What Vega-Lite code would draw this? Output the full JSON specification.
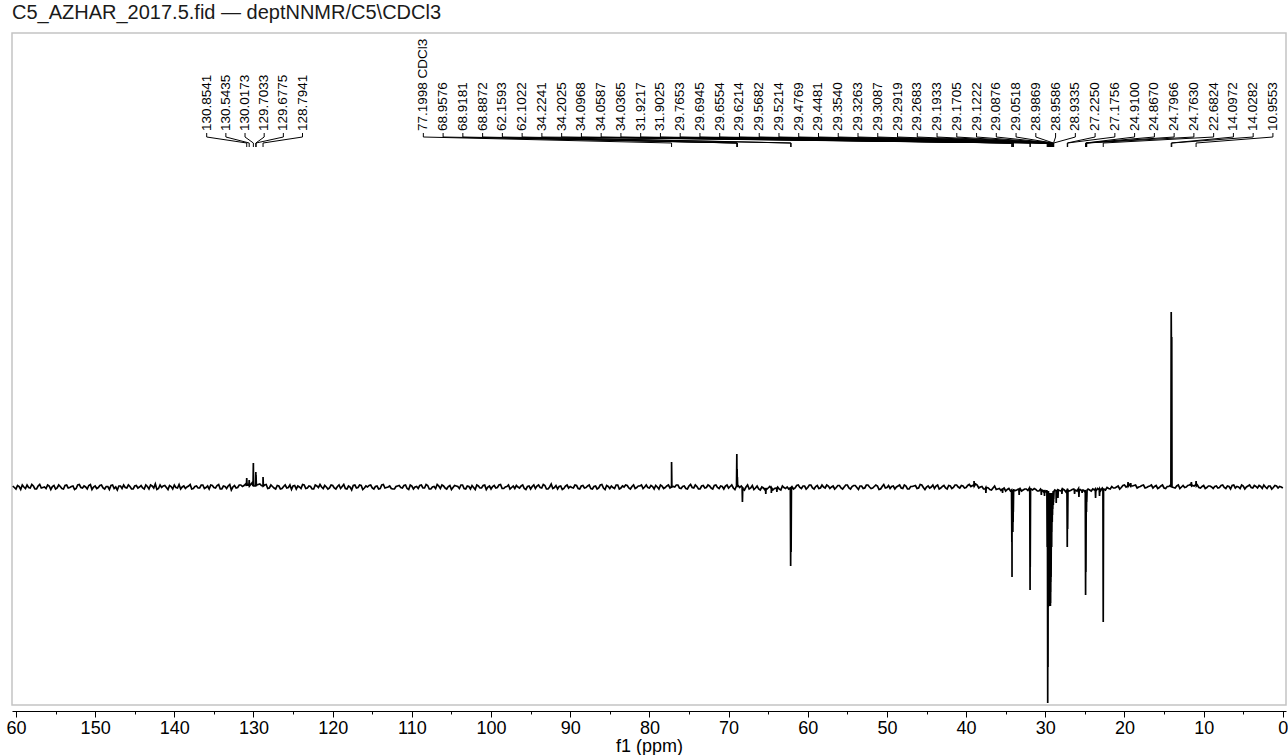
{
"$schema": "https://vega.github.io/schema/vega-lite/v6.json",
"width": 1274, "height": 672,
"autosize": {"type": "none"},
"padding": {"left": 12, "top": 33, "right": 2, "bottom": 50},
"background": "white",
"config": {"font": "Liberation Sans", "view": {"stroke": "#c4c4c4", "strokeWidth": 1.5}},
"title": {"text": "C5_AZHAR_2017.5.fid — deptNNMR/C5\\CDCl3", "anchor": "start", "frame": "group", "fontSize": 20, "fontWeight": "normal", "color": "#1a1a1a", "offset": 10},
"datasets": {
"spec": [
{"p":160.4,"i":1},{"p":160.0,"i":-2},{"p":159.6,"i":0.5},{"p":159.2,"i":2},{"p":158.8,"i":-1.5},{"p":158.4,"i":-0.5},{"p":158.0,"i":2.5},{"p":157.6,"i":-2},{"p":157.2,"i":1},{"p":156.8,"i":-1},{"p":156.4,"i":0},{"p":156.0,"i":2},{"p":155.6,"i":-2.5},{"p":155.2,"i":1.5},{"p":154.8,"i":-1},{"p":154.4,"i":0.5},{"p":154.0,"i":-2},{"p":153.6,"i":2},{"p":153.2,"i":-0.5},{"p":152.8,"i":1},
{"p":152.4,"i":-1.5},{"p":152.0,"i":2.5},{"p":151.6,"i":-1},{"p":151.2,"i":0},{"p":150.8,"i":1.5},{"p":150.4,"i":-2.5},{"p":150.0,"i":1},{"p":149.6,"i":-0.5},{"p":149.2,"i":2},{"p":148.8,"i":-2},{"p":148.4,"i":0.5},{"p":148.0,"i":1.5},{"p":147.6,"i":-1.5},{"p":147.2,"i":-3},{"p":146.8,"i":1},{"p":146.4,"i":2},{"p":146.0,"i":-1},{"p":145.6,"i":0.5},{"p":145.2,"i":-2},{"p":144.8,"i":1.5},
{"p":144.4,"i":0},{"p":144.0,"i":-1},{"p":143.6,"i":2},{"p":143.2,"i":-2},{"p":142.8,"i":1},{"p":142.4,"i":3},{"p":142.0,"i":-1.5},{"p":141.6,"i":-0.5},{"p":141.2,"i":1.5},{"p":140.8,"i":-2.5},{"p":140.4,"i":0.5},{"p":140.0,"i":2},{"p":139.6,"i":-1},{"p":139.2,"i":-2},{"p":138.8,"i":1},{"p":138.4,"i":0},{"p":138.0,"i":2.5},{"p":137.6,"i":-1.5},{"p":137.2,"i":1},{"p":136.8,"i":-1},
{"p":136.4,"i":2},{"p":136.0,"i":-0.5},{"p":135.6,"i":-2},{"p":135.2,"i":1.5},{"p":134.8,"i":-1},{"p":134.4,"i":2.5},{"p":134.0,"i":-2},{"p":133.6,"i":0.5},{"p":133.2,"i":1},{"p":132.8,"i":-3},{"p":132.4,"i":1.5},{"p":132.0,"i":-0.5},{"p":131.6,"i":2},{"p":131.2,"i":1.5},{"p":130.8,"i":3},{"p":130.4,"i":2},{"p":130.0,"i":3.5},{"p":129.6,"i":2},{"p":129.2,"i":3},{"p":128.8,"i":1},
{"p":128.4,"i":2.5},{"p":128.0,"i":-1},{"p":127.6,"i":0.5},{"p":127.2,"i":-2},{"p":126.8,"i":1},{"p":126.4,"i":-1.5},{"p":126.0,"i":2},{"p":125.6,"i":-0.5},{"p":125.2,"i":-2.5},{"p":124.8,"i":1.5},{"p":124.4,"i":1},{"p":124.0,"i":-1.5},{"p":123.6,"i":2},{"p":123.2,"i":-1},{"p":122.8,"i":0.5},{"p":122.4,"i":-2},{"p":122.0,"i":1},{"p":121.6,"i":2.5},{"p":121.2,"i":-1.5},{"p":120.8,"i":0},
{"p":120.4,"i":-1},{"p":120.0,"i":1.5},{"p":119.6,"i":-2},{"p":119.2,"i":2},{"p":118.8,"i":0.5},{"p":118.4,"i":-1.5},{"p":118.0,"i":1},{"p":117.6,"i":-3},{"p":117.2,"i":2},{"p":116.8,"i":-0.5},{"p":116.4,"i":1.5},{"p":116.0,"i":-1},{"p":115.6,"i":0},{"p":115.2,"i":2},{"p":114.8,"i":-2},{"p":114.4,"i":1},{"p":114.0,"i":-1.5},{"p":113.6,"i":2.5},{"p":113.2,"i":-0.5},{"p":112.8,"i":1},
{"p":112.4,"i":-2},{"p":112.0,"i":0.5},{"p":111.6,"i":1.5},{"p":111.2,"i":-1},{"p":110.8,"i":2},{"p":110.4,"i":-2.5},{"p":110.0,"i":1},{"p":109.6,"i":0},{"p":109.2,"i":-1.5},{"p":108.8,"i":2},{"p":108.4,"i":-1},{"p":108.0,"i":1.5},{"p":107.6,"i":-2},{"p":107.2,"i":0.5},{"p":106.8,"i":2.5},{"p":106.4,"i":-1.5},{"p":106.0,"i":1},{"p":105.6,"i":-2},{"p":105.2,"i":1.5},{"p":104.8,"i":-0.5},
{"p":104.4,"i":1},{"p":104.0,"i":-1.5},{"p":103.6,"i":2},{"p":103.2,"i":-2},{"p":102.8,"i":0.5},{"p":102.4,"i":1.5},{"p":102.0,"i":-2.5},{"p":101.6,"i":1},{"p":101.2,"i":-1},{"p":100.8,"i":2},{"p":100.4,"i":0},{"p":100.0,"i":-2},{"p":99.6,"i":1.5},{"p":99.2,"i":-0.5},{"p":98.8,"i":2.5},{"p":98.4,"i":-1.5},{"p":98.0,"i":0.5},{"p":97.6,"i":-2},{"p":97.2,"i":1},{"p":96.8,"i":1.5},
{"p":96.4,"i":-1},{"p":96.0,"i":2},{"p":95.6,"i":-2.5},{"p":95.2,"i":1},{"p":94.8,"i":0.5},{"p":94.4,"i":-1.5},{"p":94.0,"i":2},{"p":93.6,"i":-1},{"p":93.2,"i":1.5},{"p":92.8,"i":-2},{"p":92.4,"i":3},{"p":92.0,"i":-0.5},{"p":91.6,"i":-2},{"p":91.2,"i":1},{"p":90.8,"i":-1.5},{"p":90.4,"i":2},{"p":90.0,"i":0.5},{"p":89.6,"i":-1},{"p":89.2,"i":1.5},{"p":88.8,"i":-2},
{"p":88.4,"i":1.5},{"p":88.0,"i":-0.5},{"p":87.6,"i":2},{"p":87.2,"i":-2},{"p":86.8,"i":1},{"p":86.4,"i":-1},{"p":86.0,"i":2.5},{"p":85.6,"i":-2.5},{"p":85.2,"i":0.5},{"p":84.8,"i":1},{"p":84.4,"i":-1.5},{"p":84.0,"i":2},{"p":83.6,"i":-1},{"p":83.2,"i":0},{"p":82.8,"i":1.5},{"p":82.4,"i":-2},{"p":82.0,"i":2},{"p":81.6,"i":-0.5},{"p":81.2,"i":1},{"p":80.8,"i":-1.5},
{"p":80.4,"i":2},{"p":80.0,"i":-1},{"p":79.6,"i":0.5},{"p":79.2,"i":1.5},{"p":78.8,"i":-2},{"p":78.4,"i":1},{"p":78.0,"i":-0.5},{"p":77.6,"i":2},{"p":77.2,"i":1.5},{"p":76.8,"i":0},{"p":76.4,"i":2},{"p":76.0,"i":-1.5},{"p":75.6,"i":1},{"p":75.2,"i":-2},{"p":74.8,"i":2.5},{"p":74.4,"i":-1},{"p":74.0,"i":0.5},{"p":73.6,"i":-2},{"p":73.2,"i":1.5},{"p":72.8,"i":-0.5},
{"p":72.4,"i":1},{"p":72.0,"i":-2},{"p":71.6,"i":2},{"p":71.2,"i":-1.5},{"p":70.8,"i":0.5},{"p":70.4,"i":1},{"p":70.0,"i":-1},{"p":69.6,"i":2},{"p":69.2,"i":-2.5},{"p":68.8,"i":1.5},{"p":68.4,"i":1},{"p":68.0,"i":-3},{"p":67.6,"i":2},{"p":67.2,"i":-1},{"p":66.8,"i":-2.5},{"p":66.4,"i":1},{"p":66.0,"i":-3},{"p":65.6,"i":-1},{"p":65.2,"i":-2.5},{"p":64.8,"i":0.5},
{"p":64.4,"i":-3},{"p":64.0,"i":-1},{"p":63.6,"i":-2},{"p":63.2,"i":1},{"p":62.8,"i":-1.5},{"p":62.4,"i":-2},{"p":62.0,"i":0.5},{"p":61.6,"i":-1},{"p":61.2,"i":2},{"p":60.8,"i":-1.5},{"p":60.4,"i":1},{"p":60.0,"i":-0.5},{"p":59.6,"i":2},{"p":59.2,"i":-2},{"p":58.8,"i":1.5},{"p":58.4,"i":-1},{"p":58.0,"i":0},{"p":57.6,"i":2},{"p":57.2,"i":-1.5},{"p":56.8,"i":1},
{"p":56.4,"i":-0.5},{"p":56.0,"i":1.5},{"p":55.6,"i":-2},{"p":55.2,"i":2},{"p":54.8,"i":-1},{"p":54.4,"i":0.5},{"p":54.0,"i":1.5},{"p":53.6,"i":-2.5},{"p":53.2,"i":1},{"p":52.8,"i":-1},{"p":52.4,"i":2},{"p":52.0,"i":-1.5},{"p":51.6,"i":0.5},{"p":51.2,"i":1},{"p":50.8,"i":-2},{"p":50.4,"i":2.5},{"p":50.0,"i":-0.5},{"p":49.6,"i":-1.5},{"p":49.2,"i":1},{"p":48.8,"i":0},
{"p":48.4,"i":2},{"p":48.0,"i":-1.5},{"p":47.6,"i":1},{"p":47.2,"i":-2},{"p":46.8,"i":0.5},{"p":46.4,"i":1.5},{"p":46.0,"i":-1},{"p":45.6,"i":2},{"p":45.2,"i":-2.5},{"p":44.8,"i":1},{"p":44.4,"i":0},{"p":44.0,"i":-1.5},{"p":43.6,"i":2},{"p":43.2,"i":-1},{"p":42.8,"i":1.5},{"p":42.4,"i":-2},{"p":42.0,"i":1},{"p":41.6,"i":-0.5},{"p":41.2,"i":2},{"p":40.8,"i":-1},
{"p":40.4,"i":1},{"p":40.0,"i":-0.5},{"p":39.6,"i":2.5},{"p":39.2,"i":1.5},{"p":38.8,"i":3},{"p":38.4,"i":-1},{"p":38.0,"i":0.5},{"p":37.6,"i":-2},{"p":37.2,"i":-1},{"p":36.8,"i":-3},{"p":36.4,"i":1},{"p":36.0,"i":-2},{"p":35.6,"i":-3.5},{"p":35.2,"i":-1},{"p":34.8,"i":-2.5},{"p":34.4,"i":-4},{"p":34.0,"i":-2},{"p":33.6,"i":-3},{"p":33.2,"i":-1.5},{"p":32.8,"i":-3},
{"p":32.4,"i":-2},{"p":32.0,"i":-1},{"p":31.6,"i":-3},{"p":31.2,"i":-2.5},{"p":30.8,"i":-4},{"p":30.4,"i":-3},{"p":30.0,"i":-5},{"p":29.6,"i":-4},{"p":29.2,"i":-6},{"p":28.8,"i":-3},{"p":28.4,"i":-2},{"p":28.0,"i":-4},{"p":27.6,"i":-3},{"p":27.2,"i":-1.5},{"p":26.8,"i":-3.5},{"p":26.4,"i":-2},{"p":26.0,"i":-4},{"p":25.6,"i":-2.5},{"p":25.2,"i":-3},{"p":24.8,"i":-4.5},
{"p":24.4,"i":-3},{"p":24.0,"i":-2},{"p":23.6,"i":-4},{"p":23.2,"i":-2.5},{"p":22.8,"i":-1},{"p":22.4,"i":-3},{"p":22.0,"i":-1.5},{"p":21.6,"i":0.5},{"p":21.2,"i":-1},{"p":20.8,"i":1},{"p":20.4,"i":-0.5},{"p":20.0,"i":2},{"p":19.6,"i":1},{"p":19.2,"i":3},{"p":18.8,"i":1.5},{"p":18.4,"i":-1},{"p":18.0,"i":0.5},{"p":17.6,"i":2},{"p":17.2,"i":-0.5},{"p":16.8,"i":1},
{"p":16.4,"i":-1},{"p":16.0,"i":1.5},{"p":15.6,"i":-0.5},{"p":15.2,"i":2},{"p":14.8,"i":-1.5},{"p":14.4,"i":0.5},{"p":14.0,"i":1},{"p":13.6,"i":-1},{"p":13.2,"i":2},{"p":12.8,"i":0},{"p":12.4,"i":-0.5},{"p":12.0,"i":1.5},{"p":11.6,"i":3},{"p":11.2,"i":1},{"p":10.8,"i":2},{"p":10.4,"i":-1},{"p":10.0,"i":1.5},{"p":9.6,"i":-0.5},{"p":9.2,"i":1},{"p":8.8,"i":-1.5},
{"p":8.4,"i":1},{"p":8.0,"i":-0.5},{"p":7.6,"i":2},{"p":7.2,"i":-1.5},{"p":6.8,"i":0.5},{"p":6.4,"i":1.5},{"p":6.0,"i":-1},{"p":5.6,"i":0},{"p":5.2,"i":2},{"p":4.8,"i":-2},{"p":4.4,"i":1},{"p":4.0,"i":-0.5},{"p":3.6,"i":1.5},{"p":3.2,"i":-1},{"p":2.8,"i":0.5},{"p":2.4,"i":2},{"p":2.0,"i":-1.5},{"p":1.6,"i":1},{"p":1.2,"i":-0.5},{"p":0.8,"i":1},
{"p":0.4,"i":0.5},{"p":0.0,"i":-1},
{"p":160.2,"i":-0.5},{"p":159.8,"i":1.5},{"p":159.4,"i":-2.5},{"p":159.0,"i":0},{"p":158.6,"i":2},{"p":158.2,"i":-1},{"p":157.8,"i":1},{"p":157.4,"i":-2},{"p":157.0,"i":2.5},{"p":156.6,"i":-0.5},{"p":156.2,"i":-1.5},{"p":155.8,"i":1},{"p":155.4,"i":0.5},{"p":155.0,"i":-2},{"p":154.6,"i":2},{"p":154.2,"i":-1.5},{"p":153.8,"i":1.5},{"p":153.4,"i":-1},{"p":153.0,"i":0.5},{"p":152.6,"i":-2.5},
{"p":152.2,"i":2},{"p":151.8,"i":-0.5},{"p":151.4,"i":1},{"p":151.0,"i":-2},{"p":150.6,"i":2.5},{"p":150.2,"i":0},{"p":149.8,"i":-1.5},{"p":149.4,"i":1.5},{"p":149.0,"i":-1},{"p":148.6,"i":0.5},{"p":148.2,"i":-2.5},{"p":147.8,"i":2},{"p":147.4,"i":0},{"p":147.0,"i":1},{"p":146.6,"i":-1.5},{"p":146.2,"i":-0.5},{"p":145.8,"i":2},{"p":145.4,"i":-2},{"p":145.0,"i":1},{"p":144.6,"i":-1},
{"p":144.2,"i":1.5},{"p":143.8,"i":-2},{"p":143.4,"i":0.5},{"p":143.0,"i":2},{"p":142.6,"i":-1},{"p":142.2,"i":-2.5},{"p":141.8,"i":2},{"p":141.4,"i":1},{"p":141.0,"i":-0.5},{"p":140.6,"i":1.5},{"p":140.2,"i":-2},{"p":139.8,"i":-0.5},{"p":139.4,"i":2.5},{"p":139.0,"i":0},{"p":138.6,"i":-1.5},{"p":138.2,"i":1},{"p":137.8,"i":-2},{"p":137.4,"i":0.5},{"p":137.0,"i":-1},{"p":136.6,"i":2},
{"p":136.2,"i":-1.5},{"p":135.8,"i":1},{"p":135.4,"i":2},{"p":135.0,"i":-0.5},{"p":134.6,"i":1.5},{"p":134.2,"i":-2},{"p":133.8,"i":1},{"p":133.4,"i":-1.5},{"p":133.0,"i":2.5},{"p":132.6,"i":0},{"p":132.2,"i":-1},{"p":131.8,"i":2},{"p":131.4,"i":0.5},{"p":131.0,"i":3},{"p":130.6,"i":1.5},{"p":130.2,"i":4},{"p":129.8,"i":1},{"p":129.4,"i":2.5},{"p":129.0,"i":1.5},{"p":128.6,"i":2},
{"p":128.2,"i":-1.5},{"p":127.8,"i":2},{"p":127.4,"i":-1},{"p":127.0,"i":1.5},{"p":126.6,"i":-2},{"p":126.2,"i":0.5},{"p":125.8,"i":-1},{"p":125.4,"i":2},{"p":125.0,"i":1},{"p":124.6,"i":-2},{"p":124.2,"i":0},{"p":123.8,"i":2.5},{"p":123.4,"i":-1.5},{"p":123.0,"i":1},{"p":122.6,"i":-2},{"p":122.2,"i":2},{"p":121.8,"i":-0.5},{"p":121.4,"i":0},{"p":121.0,"i":1.5},{"p":120.6,"i":-2},
{"p":120.2,"i":2},{"p":119.8,"i":-1},{"p":119.4,"i":0.5},{"p":119.0,"i":-1.5},{"p":118.6,"i":2.5},{"p":118.2,"i":-2},{"p":117.8,"i":0},{"p":117.4,"i":1.5},{"p":117.0,"i":-1},{"p":116.6,"i":2},{"p":116.2,"i":-2.5},{"p":115.8,"i":1},{"p":115.4,"i":1.5},{"p":115.0,"i":-1},{"p":114.6,"i":0.5},{"p":114.2,"i":-2},{"p":113.8,"i":2},{"p":113.4,"i":-1},{"p":113.0,"i":0},{"p":112.6,"i":-1.5},
{"p":112.2,"i":-2},{"p":111.8,"i":1},{"p":111.4,"i":-0.5},{"p":111.0,"i":1.5},{"p":110.6,"i":-1.5},{"p":110.2,"i":2},{"p":109.8,"i":-2},{"p":109.4,"i":0.5},{"p":109.0,"i":1.5},{"p":108.6,"i":-1},{"p":108.2,"i":2.5},{"p":107.8,"i":-2},{"p":107.4,"i":0},{"p":107.0,"i":-1.5},{"p":106.6,"i":1},{"p":106.2,"i":2},{"p":105.8,"i":-1},{"p":105.4,"i":0.5},{"p":105.0,"i":-2.5},{"p":104.6,"i":1.5},
{"p":104.2,"i":0.5},{"p":103.8,"i":2},{"p":103.4,"i":-1.5},{"p":103.0,"i":1},{"p":102.6,"i":-2},{"p":102.2,"i":-0.5},{"p":101.8,"i":2},{"p":101.4,"i":-1},{"p":101.0,"i":1.5},{"p":100.6,"i":-2.5},{"p":100.2,"i":1},{"p":99.8,"i":0.5},{"p":99.4,"i":-1},{"p":99.0,"i":2},{"p":98.6,"i":-1.5},{"p":98.2,"i":0},{"p":97.8,"i":2},{"p":97.4,"i":-0.5},{"p":97.0,"i":-1.5},{"p":96.6,"i":0},
{"p":96.2,"i":1},{"p":95.8,"i":-1.5},{"p":95.4,"i":0.5},{"p":95.0,"i":-2},{"p":94.6,"i":2},{"p":94.2,"i":1},{"p":93.8,"i":-0.5},{"p":93.4,"i":2.5},{"p":93.0,"i":-2},{"p":92.6,"i":0},{"p":92.2,"i":-1.5},{"p":91.8,"i":1.5},{"p":91.4,"i":0.5},{"p":91.0,"i":-2.5},{"p":90.6,"i":1},{"p":90.2,"i":-1},{"p":89.8,"i":-0.5},{"p":89.4,"i":2},{"p":89.0,"i":-1.5},{"p":88.6,"i":1},
{"p":88.2,"i":-1},{"p":87.8,"i":1},{"p":87.4,"i":-1.5},{"p":87.0,"i":0.5},{"p":86.6,"i":-2},{"p":86.2,"i":2},{"p":85.8,"i":-1},{"p":85.4,"i":1.5},{"p":85.0,"i":-1.5},{"p":84.6,"i":-0.5},{"p":84.2,"i":2},{"p":83.8,"i":-2},{"p":83.4,"i":1},{"p":83.0,"i":2},{"p":82.6,"i":-1},{"p":82.2,"i":0.5},{"p":81.8,"i":-1.5},{"p":81.4,"i":1},{"p":81.0,"i":2},{"p":80.6,"i":0},
{"p":80.2,"i":-0.5},{"p":79.8,"i":1.5},{"p":79.4,"i":-2},{"p":79.0,"i":0},{"p":78.6,"i":2},{"p":78.2,"i":-1.5},{"p":77.8,"i":1},{"p":77.4,"i":-1},{"p":77.0,"i":0.5},{"p":76.6,"i":2},{"p":76.2,"i":-1},{"p":75.8,"i":0.5},{"p":75.4,"i":-1.5},{"p":75.0,"i":1},{"p":74.6,"i":-0.5},{"p":74.2,"i":2},{"p":73.8,"i":-2},{"p":73.4,"i":1},{"p":73.0,"i":-1},{"p":72.6,"i":2},
{"p":72.2,"i":-1},{"p":71.8,"i":1.5},{"p":71.4,"i":-0.5},{"p":71.0,"i":1},{"p":70.6,"i":-2},{"p":70.2,"i":2},{"p":69.8,"i":0.5},{"p":69.4,"i":-1},{"p":69.0,"i":1},{"p":68.6,"i":-0.5},{"p":68.2,"i":-1.5},{"p":67.8,"i":0},{"p":67.4,"i":-2},{"p":67.0,"i":1.5},{"p":66.6,"i":-1},{"p":66.2,"i":-2},{"p":65.8,"i":0},{"p":65.4,"i":-3},{"p":65.0,"i":-1},{"p":64.6,"i":-2},
{"p":64.2,"i":-1.5},{"p":63.8,"i":0},{"p":63.4,"i":-3},{"p":63.0,"i":-0.5},{"p":62.6,"i":0},{"p":62.2,"i":-1},{"p":61.8,"i":-2},{"p":61.4,"i":1.5},{"p":61.0,"i":-0.5},{"p":60.6,"i":1},{"p":60.2,"i":-2},{"p":59.8,"i":2},{"p":59.4,"i":-1},{"p":59.0,"i":0.5},{"p":58.6,"i":-1.5},{"p":58.2,"i":2},{"p":57.8,"i":-1},{"p":57.4,"i":1},{"p":57.0,"i":0},{"p":56.6,"i":-2},
{"p":56.2,"i":1.5},{"p":55.8,"i":-1},{"p":55.4,"i":0},{"p":55.0,"i":2},{"p":54.6,"i":-2},{"p":54.2,"i":1.5},{"p":53.8,"i":-0.5},{"p":53.4,"i":1},{"p":53.0,"i":-1.5},{"p":52.6,"i":2},{"p":52.2,"i":0},{"p":51.8,"i":-1},{"p":51.4,"i":2},{"p":51.0,"i":-2.5},{"p":50.6,"i":0.5},{"p":50.2,"i":-1},{"p":49.8,"i":1.5},{"p":49.4,"i":0.5},{"p":49.0,"i":-2},{"p":48.6,"i":1},
{"p":48.2,"i":-1},{"p":47.8,"i":2},{"p":47.4,"i":-2},{"p":47.0,"i":0.5},{"p":46.6,"i":1},{"p":46.2,"i":-1.5},{"p":45.8,"i":2.5},{"p":45.4,"i":-0.5},{"p":45.0,"i":0},{"p":44.6,"i":-1},{"p":44.2,"i":2},{"p":43.8,"i":1},{"p":43.4,"i":-2},{"p":43.0,"i":0.5},{"p":42.6,"i":-1},{"p":42.2,"i":1.5},{"p":41.8,"i":-1.5},{"p":41.4,"i":2},{"p":41.0,"i":0},{"p":40.6,"i":1.5},
{"p":40.2,"i":-1},{"p":39.8,"i":1.5},{"p":39.4,"i":0.5},{"p":39.0,"i":3},{"p":38.6,"i":2},{"p":38.2,"i":0},{"p":37.8,"i":-2},{"p":37.4,"i":-0.5},{"p":37.0,"i":-2.5},{"p":36.6,"i":-1},{"p":36.2,"i":-2.5},{"p":35.8,"i":-1.5},{"p":35.4,"i":-2},{"p":35.0,"i":-4},{"p":34.6,"i":-1.5},{"p":34.2,"i":-3},{"p":33.8,"i":-3.5},{"p":33.4,"i":-2},{"p":33.0,"i":-4},{"p":32.6,"i":-2},
{"p":32.2,"i":-3.5},{"p":31.8,"i":-2},{"p":31.4,"i":-1.5},{"p":31.0,"i":-4},{"p":30.6,"i":-2},{"p":30.2,"i":-5},{"p":29.8,"i":-3},{"p":29.4,"i":-6},{"p":29.0,"i":-4},{"p":28.6,"i":-5},{"p":28.2,"i":-3.5},{"p":27.8,"i":-2},{"p":27.4,"i":-5},{"p":27.0,"i":-4},{"p":26.6,"i":-2.5},{"p":26.2,"i":-3},{"p":25.8,"i":-1.5},{"p":25.4,"i":-4},{"p":25.0,"i":-5},{"p":24.6,"i":-2},
{"p":24.2,"i":-4},{"p":23.8,"i":-3},{"p":23.4,"i":-1.5},{"p":23.0,"i":-3.5},{"p":22.6,"i":-2},{"p":22.2,"i":-0.5},{"p":21.8,"i":-2},{"p":21.4,"i":-1},{"p":21.0,"i":0},{"p":20.6,"i":-2},{"p":20.2,"i":1.5},{"p":19.8,"i":0},{"p":19.4,"i":2.5},{"p":19.0,"i":1},{"p":18.6,"i":2},{"p":18.2,"i":0},{"p":17.8,"i":1.5},{"p":17.4,"i":-1},{"p":17.0,"i":0.5},{"p":16.6,"i":2},
{"p":16.2,"i":0.5},{"p":15.8,"i":-1.5},{"p":15.4,"i":1},{"p":15.0,"i":-1},{"p":14.6,"i":0.5},{"p":14.2,"i":2},{"p":13.8,"i":-0.5},{"p":13.4,"i":1},{"p":13.0,"i":-1.5},{"p":12.6,"i":1.5},{"p":12.2,"i":0},{"p":11.8,"i":2},{"p":11.4,"i":1.5},{"p":11.0,"i":2.5},{"p":10.6,"i":-0.5},{"p":10.2,"i":0.5},{"p":9.8,"i":-1.5},{"p":9.4,"i":1},{"p":9.0,"i":0},{"p":8.6,"i":0.5},
{"p":8.2,"i":-1},{"p":7.8,"i":1.5},{"p":7.4,"i":-0.5},{"p":7.0,"i":1},{"p":6.6,"i":-2},{"p":6.2,"i":2},{"p":5.8,"i":0.5},{"p":5.4,"i":-1.5},{"p":5.0,"i":1},{"p":4.6,"i":0},{"p":4.2,"i":2},{"p":3.8,"i":-1},{"p":3.4,"i":0.5},{"p":3.0,"i":1.5},{"p":2.6,"i":-1.5},{"p":2.2,"i":0},{"p":1.8,"i":1},{"p":1.4,"i":-2},{"p":1.0,"i":1.5},{"p":0.6,"i":-1},
{"p":0.2,"i":0},
{"p":130.8941,"i":1},{"p":130.8541,"i":9},{"p":130.8141,"i":1},
{"p":130.5835,"i":1},{"p":130.5435,"i":7},{"p":130.5035,"i":1},
{"p":130.0573,"i":1},{"p":130.0173,"i":24},{"p":129.9773,"i":1},
{"p":129.7433,"i":1},{"p":129.7033,"i":15},{"p":129.69,"i":2},{"p":129.6775,"i":12},{"p":129.6375,"i":1},
{"p":128.8341,"i":1},{"p":128.7941,"i":10},{"p":128.7541,"i":1},
{"p":77.2398,"i":0},{"p":77.1998,"i":25},{"p":77.1598,"i":0},
{"p":68.9976,"i":0},{"p":68.9576,"i":33},{"p":68.9381,"i":2},{"p":68.9181,"i":18},{"p":68.9026,"i":2},{"p":68.8872,"i":10},{"p":68.8472,"i":0},
{"p":68.29,"i":0},{"p":68.25,"i":-15},{"p":68.21,"i":0},
{"p":65.34,"i":-1},{"p":65.3,"i":-7},{"p":65.26,"i":-1},
{"p":64.64,"i":-1},{"p":64.6,"i":-6},{"p":64.56,"i":-1},
{"p":63.94,"i":-1},{"p":63.9,"i":-5},{"p":63.86,"i":-1},
{"p":62.1993,"i":0},{"p":62.1593,"i":-79},{"p":62.13,"i":-2},{"p":62.1022,"i":-65},{"p":62.0622,"i":0},
{"p":39.04,"i":1},{"p":39.0,"i":6},{"p":38.96,"i":1},
{"p":37.54,"i":-1},{"p":37.5,"i":-6},{"p":37.46,"i":-1},
{"p":35.44,"i":-2},{"p":35.4,"i":-6},{"p":35.36,"i":-2},
{"p":34.2641,"i":-3},{"p":34.2241,"i":-55},{"p":34.2125,"i":-20},{"p":34.2025,"i":-90},{"p":34.15,"i":-5},{"p":34.0968,"i":-45},{"p":34.078,"i":-10},{"p":34.0587,"i":-35},{"p":34.047,"i":-8},{"p":34.0365,"i":-25},{"p":33.9965,"i":-3},
{"p":33.34,"i":-2},{"p":33.3,"i":-8},{"p":33.26,"i":-2},
{"p":31.9617,"i":-3},{"p":31.9217,"i":-103},{"p":31.912,"i":-20},{"p":31.9025,"i":-80},{"p":31.8625,"i":-3},
{"p":30.54,"i":-3},{"p":30.5,"i":-8},{"p":30.46,"i":-3},
{"p":30.14,"i":-3},{"p":30.1,"i":-9},{"p":30.06,"i":-3},
{"p":29.8053,"i":-4},{"p":29.7653,"i":-60},{"p":29.73,"i":-10},{"p":29.6945,"i":-216},{"p":29.675,"i":-20},{"p":29.6554,"i":-180},{"p":29.638,"i":-30},{"p":29.6214,"i":-120},{"p":29.595,"i":-25},{"p":29.5682,"i":-119},{"p":29.545,"i":-30},{"p":29.5214,"i":-118},{"p":29.5,"i":-30},{"p":29.4769,"i":-115},{"p":29.462,"i":-30},{"p":29.4481,"i":-110},{"p":29.41,"i":-30},{"p":29.354,"i":-119},{"p":29.34,"i":-30},{"p":29.3263,"i":-116},{"p":29.317,"i":-30},{"p":29.3087,"i":-105},{"p":29.3,"i":-30},{"p":29.2919,"i":-95},{"p":29.28,"i":-25},{"p":29.2683,"i":-90},{"p":29.23,"i":-20},{"p":29.1933,"i":-60},{"p":29.18,"i":-15},{"p":29.1705,"i":-45},{"p":29.145,"i":-12},{"p":29.1222,"i":-35},{"p":29.105,"i":-10},{"p":29.0876,"i":-28},{"p":29.07,"i":-8},{"p":29.0518,"i":-22},{"p":29.02,"i":-6},{"p":28.9869,"i":-18},{"p":28.97,"i":-6},{"p":28.9586,"i":-15},{"p":28.945,"i":-5},{"p":28.9335,"i":-12},{"p":28.8935,"i":-4},
{"p":28.64,"i":-4},{"p":28.62,"i":-16},{"p":28.58,"i":-4},
{"p":28.44,"i":-3},{"p":28.4,"i":-11},{"p":28.36,"i":-3},
{"p":27.94,"i":-3},{"p":27.9,"i":-7},{"p":27.86,"i":-3},
{"p":27.265,"i":-3},{"p":27.225,"i":-60},{"p":27.21,"i":-10},{"p":27.1756,"i":-42},{"p":27.1356,"i":-3},
{"p":26.34,"i":-3},{"p":26.3,"i":-7},{"p":26.26,"i":-3},
{"p":25.79,"i":-3},{"p":25.75,"i":-10},{"p":25.71,"i":-3},
{"p":25.39,"i":-3},{"p":25.35,"i":-6},{"p":25.31,"i":-3},
{"p":24.95,"i":-3},{"p":24.91,"i":-108},{"p":24.89,"i":-15},{"p":24.867,"i":-85},{"p":24.83,"i":-10},{"p":24.7966,"i":-25},{"p":24.78,"i":-8},{"p":24.763,"i":-15},{"p":24.723,"i":-3},
{"p":23.69,"i":-2},{"p":23.65,"i":-11},{"p":23.61,"i":-2},
{"p":23.19,"i":-2},{"p":23.15,"i":-9},{"p":23.11,"i":-2},
{"p":22.7224,"i":-2},{"p":22.6824,"i":-135},{"p":22.6424,"i":-2},
{"p":19.59,"i":1},{"p":19.55,"i":5},{"p":19.51,"i":1},
{"p":19.24,"i":1},{"p":19.21,"i":4},{"p":19.17,"i":1},
{"p":14.1372,"i":0},{"p":14.0972,"i":175},{"p":14.06,"i":120},{"p":14.0282,"i":150},{"p":13.9882,"i":0},
{"p":11.59,"i":1},{"p":11.55,"i":5},{"p":11.51,"i":1},
{"p":10.9953,"i":1},{"p":10.9553,"i":6},{"p":10.9153,"i":1}
],
"labels": [
{"ppm":130.8541,"label":"130.8541","g":1},{"ppm":130.5435,"label":"130.5435","g":1},{"ppm":130.0173,"label":"130.0173","g":1},{"ppm":129.7033,"label":"129.7033","g":1},{"ppm":129.6775,"label":"129.6775","g":1},{"ppm":128.7941,"label":"128.7941","g":1},
{"ppm":77.1998,"label":"77.1998 CDCl3","g":2},{"ppm":68.9576,"label":"68.9576","g":2},{"ppm":68.9181,"label":"68.9181","g":2},{"ppm":68.8872,"label":"68.8872","g":2},{"ppm":62.1593,"label":"62.1593","g":2},{"ppm":62.1022,"label":"62.1022","g":2},
{"ppm":34.2241,"label":"34.2241","g":2},{"ppm":34.2025,"label":"34.2025","g":2},{"ppm":34.0968,"label":"34.0968","g":2},{"ppm":34.0587,"label":"34.0587","g":2},{"ppm":34.0365,"label":"34.0365","g":2},{"ppm":31.9217,"label":"31.9217","g":2},{"ppm":31.9025,"label":"31.9025","g":2},
{"ppm":29.7653,"label":"29.7653","g":2},{"ppm":29.6945,"label":"29.6945","g":2},{"ppm":29.6554,"label":"29.6554","g":2},{"ppm":29.6214,"label":"29.6214","g":2},{"ppm":29.5682,"label":"29.5682","g":2},{"ppm":29.5214,"label":"29.5214","g":2},{"ppm":29.4769,"label":"29.4769","g":2},{"ppm":29.4481,"label":"29.4481","g":2},{"ppm":29.354,"label":"29.3540","g":2},{"ppm":29.3263,"label":"29.3263","g":2},{"ppm":29.3087,"label":"29.3087","g":2},{"ppm":29.2919,"label":"29.2919","g":2},{"ppm":29.2683,"label":"29.2683","g":2},{"ppm":29.1933,"label":"29.1933","g":2},{"ppm":29.1705,"label":"29.1705","g":2},{"ppm":29.1222,"label":"29.1222","g":2},{"ppm":29.0876,"label":"29.0876","g":2},{"ppm":29.0518,"label":"29.0518","g":2},{"ppm":28.9869,"label":"28.9869","g":2},{"ppm":28.9586,"label":"28.9586","g":2},{"ppm":28.9335,"label":"28.9335","g":2},
{"ppm":27.225,"label":"27.2250","g":2},{"ppm":27.1756,"label":"27.1756","g":2},{"ppm":24.91,"label":"24.9100","g":2},{"ppm":24.867,"label":"24.8670","g":2},{"ppm":24.7966,"label":"24.7966","g":2},{"ppm":24.763,"label":"24.7630","g":2},{"ppm":22.6824,"label":"22.6824","g":2},{"ppm":14.0972,"label":"14.0972","g":2},{"ppm":14.0282,"label":"14.0282","g":2},{"ppm":10.9553,"label":"10.9553","g":2}
]
},
"layer": [
{
"data": {"name": "spec"},
"mark": {"type": "line", "color": "black", "strokeWidth": 1.7, "clip": true},
"encoding": {
"x": {"field": "p", "type": "quantitative", "scale": {"domain": [-0.4, 160.5], "reverse": true, "nice": false, "zero": false},
"axis": {"orient": "bottom", "values": [0,10,20,30,40,50,60,70,80,90,100,110,120,130,140,150,160], "labelExpr": "datum.value == 160 ? '60' : datum.label", "tickSize": 6, "tickColor": "black", "tickWidth": 1, "domainColor": "black", "domainWidth": 1, "labelFontSize": 18, "labelColor": "black", "labelPadding": 2, "labelFlush": false, "labelOverlap": false, "title": "f1 (ppm)", "titleFontSize": 18, "titleFontWeight": "normal", "titleColor": "black", "titlePadding": 0, "offset": 6, "grid": false}},
"y": {"field": "i", "type": "quantitative", "scale": {"domain": [-218, 454], "nice": false, "zero": false}, "axis": null}
}
},
{
"data": {"name": "labels"},
"transform": [
{"window": [{"op": "row_number", "as": "k"}], "groupby": ["g"], "sort": [{"field": "ppm", "order": "descending"}]},
{"calculate": "datum.g == 1 ? 135.91 - (datum.k - 1) * 2.42 : 108.55 - (datum.k - 1) * 2.4953", "as": "slot"}
],
"layer": [
{"mark": {"type": "rule", "color": "black", "strokeWidth": 1},
"encoding": {"x": {"field": "slot", "type": "quantitative", "scale": {"domain": [-0.4, 160.5], "reverse": true, "nice": false, "zero": false}, "axis": null},
"y": {"datum": 354, "scale": {"domain": [-218, 454], "nice": false, "zero": false}}, "y2": {"datum": 350}}},
{"mark": {"type": "rule", "color": "black", "strokeWidth": 1},
"encoding": {"x": {"field": "slot", "type": "quantitative", "scale": {"domain": [-0.4, 160.5], "reverse": true, "nice": false, "zero": false}, "axis": null}, "x2": {"field": "ppm"},
"y": {"datum": 350, "scale": {"domain": [-218, 454], "nice": false, "zero": false}}, "y2": {"datum": 344}}},
{"mark": {"type": "rule", "color": "black", "strokeWidth": 1},
"encoding": {"x": {"field": "ppm", "type": "quantitative", "scale": {"domain": [-0.4, 160.5], "reverse": true, "nice": false, "zero": false}, "axis": null},
"y": {"datum": 344, "scale": {"domain": [-218, 454], "nice": false, "zero": false}}, "y2": {"datum": 340}}},
{"mark": {"type": "text", "angle": 270, "align": "left", "baseline": "middle", "fontSize": 13.5, "color": "black"},
"encoding": {"x": {"field": "slot", "type": "quantitative", "scale": {"domain": [-0.4, 160.5], "reverse": true, "nice": false, "zero": false},
"axis": {"orient": "bottom", "values": [5,15,25,35,45,55,65,75,85,95,105,115,125,135,145,155], "labels": false, "domain": false, "tickSize": 3, "tickColor": "black", "tickWidth": 1, "title": null, "offset": 6, "grid": false}},
"y": {"datum": 356, "scale": {"domain": [-218, 454], "nice": false, "zero": false}},
"text": {"field": "label"}}}
],
"resolve": {"axis": {"x": "independent"}}
}
],
"resolve": {"axis": {"x": "independent"}}
}
